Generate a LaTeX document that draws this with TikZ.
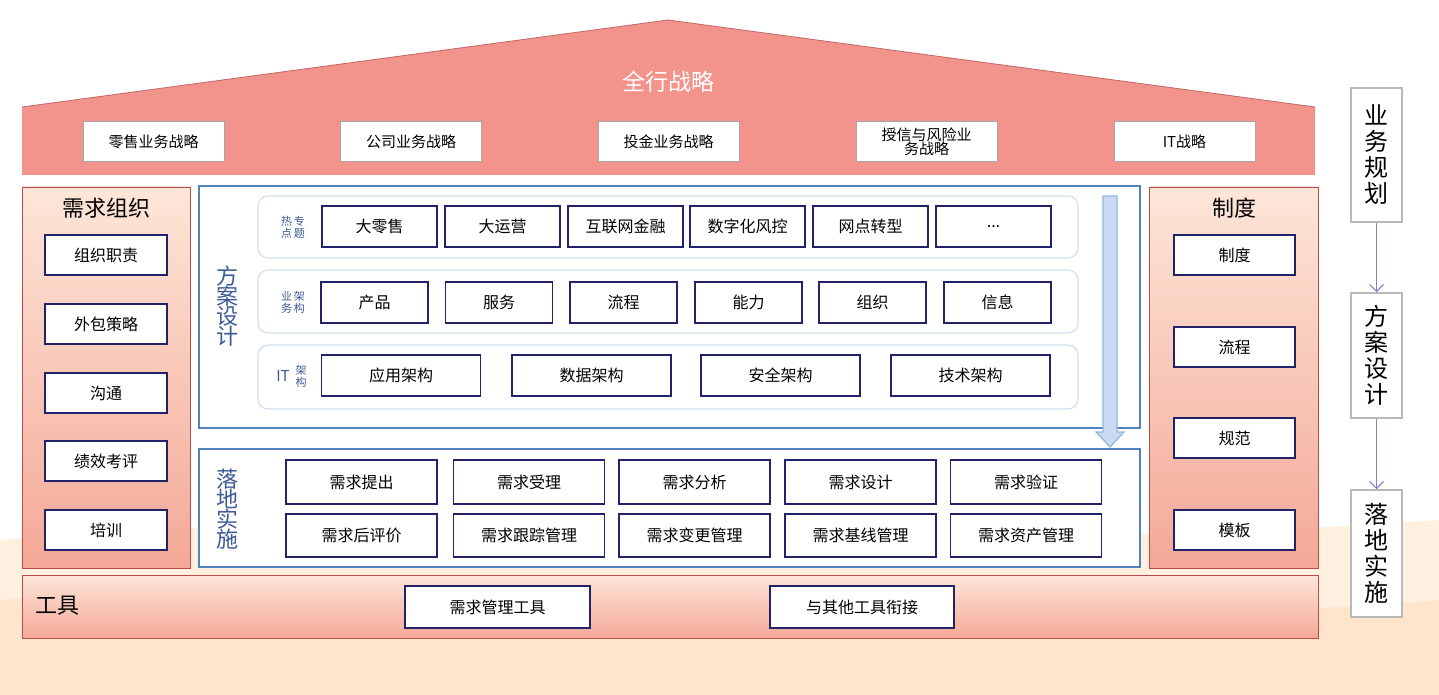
\documentclass[tikz,border=0pt]{standalone}
\usepackage{fontspec}
\setmainfont{Noto Sans CJK SC}
\usetikzlibrary{shapes.arrows,arrows.meta}
\definecolor{roof}{HTML}{F2948C}
\definecolor{peachtop}{HTML}{FDE6D8}
\definecolor{peachbot}{HTML}{F4A897}
\definecolor{navy}{HTML}{22226A}
\definecolor{frameblue}{HTML}{5383BE}
\definecolor{rowblue}{HTML}{D3DFF1}
\definecolor{labelblue}{HTML}{3B5A96}
\definecolor{arrowfill}{HTML}{C9DAF2}
\definecolor{arrowline}{HTML}{93B5E3}
\definecolor{flowline}{HTML}{8585C2}
\tikzset{
  sbox/.style={draw=gray!70, fill=white, line width=1pt, font=\fontsize{15}{17}\selectfont, inner sep=1pt, align=center},
  nbox/.style={draw=navy, fill=white, line width=1.8pt, font=\fontsize{16}{18}\selectfont, inner sep=1pt},
  column/.style={draw=red!60!black!70, line width=0.6pt, top color=peachtop, bottom color=peachbot},
  frame/.style={draw=frameblue, line width=2.2pt, fill=white},
  rowband/.style={draw=rowblue, line width=1.2pt, rounded corners=10pt, fill=white},
  coltitle/.style={font=\fontsize{22}{24}\selectfont},
  vtitle/.style={font=\fontsize{22}{24}\selectfont, text=labelblue, align=center},
  smalllbl/.style={font=\fontsize{11}{12}\selectfont, text=labelblue, align=center},
  flowbox/.style={draw=gray!55, line width=1.5pt, fill=white, font=\fontsize{24}{28}\selectfont, align=center, minimum width=51pt},
  flowarrow/.style={-{Straight Barb[length=7pt,width=14pt]}, draw=flowline, line width=1.2pt}
}
\begin{document}
\begin{tikzpicture}[x=1pt,y=-1pt]
  \useasboundingbox (0,0) rectangle (1439,695);
  % background swoosh
  \fill[orange!12] (0,540) .. controls (400,500) and (900,560) .. (1439,520) -- (1439,695) -- (0,695) -- cycle;
  \fill[orange!20] (0,600) .. controls (500,560) and (1000,640) .. (1439,600) -- (1439,695) -- (0,695) -- cycle;
  % roof
  \fill[roof] (22,107) -- (668,20) -- (1315,107) -- (1315,175) -- (22,175) -- cycle;
  \draw[red!60!black!60, line width=0.8pt] (22,107) -- (668,20) -- (1315,107);
  \node[text=white, font=\fontsize{23}{25}\selectfont] (title) at (668,82) {全行战略};
  \node[sbox, minimum width=141pt, minimum height=40pt] (s1) at (153.5,142) {零售业务战略};
  \node[sbox, minimum width=141pt, minimum height=40pt] (s2) at (411,142) {公司业务战略};
  \node[sbox, minimum width=141pt, minimum height=40pt] (s3) at (668.5,142) {投金业务战略};
  \node[sbox, minimum width=141pt, minimum height=40pt] (s4) at (926.5,142) {授信与风险业\\[-3pt]务战略};
  \node[sbox, minimum width=141pt, minimum height=40pt] (s5) at (1184.5,142) {IT战略};

  % left column
  \draw[column] (22,187) rectangle (190,568);
  \node[coltitle] (orgtitle) at (106,208) {需求组织};
  \foreach \y/\t [count=\i] in {255/组织职责,324/外包策略,393/沟通,461/绩效考评,530/培训}
    \node[nbox, minimum width=122pt, minimum height=40pt] (org\i) at (106,\y) {\t};

  % right column
  \draw[column] (1149,187) rectangle (1318,568);
  \node[coltitle] (rultitle) at (1234,208) {制度};
  \foreach \y/\t [count=\i] in {255/制度,347/流程,438/规范,530/模板}
    \node[nbox, minimum width=121pt, minimum height=40pt] (rul\i) at (1234.5,\y) {\t};

  % design frame
  \draw[frame] (199,186) rectangle (1140,428);
  \node[vtitle] (designtitle) at (227,306) {方\\[-4pt]案\\[-4pt]设\\[-4pt]计};
  \draw[rowband] (258,196) rectangle (1078,258);
  \draw[rowband] (258,270) rectangle (1078,333);
  \draw[rowband] (258,345) rectangle (1078,409);
  \node[smalllbl] (lbl1) at (293,227) {热\,专\\点\,题};
  \node[smalllbl] (lbl2) at (293,302) {业\,架\\务\,构};
  \node[text=labelblue, font=\fontsize{15}{16}\selectfont] (lbl3a) at (283,376) {IT};
  \node[smalllbl] (lbl3b) at (301,376) {架\\构};
  \foreach \x/\t [count=\i] in {379.5/大零售,502.5/大运营,625.5/互联网金融,747.5/数字化风控,870.5/网点转型,993.5/{...}}
    \node[nbox, minimum width=115pt, minimum height=41pt] (hot\i) at (\x,226.5) {\t};
  \foreach \x/\t [count=\i] in {374.5/产品,499/服务,623.5/流程,748.5/能力,872.5/组织,997.5/信息}
    \node[nbox, minimum width=107pt, minimum height=41pt] (biz\i) at (\x,302.5) {\t};
  \foreach \x/\t [count=\i] in {401/应用架构,591.5/数据架构,780.5/安全架构,970.5/技术架构}
    \node[nbox, minimum width=159pt, minimum height=41pt] (it\i) at (\x,375.5) {\t};

  % implementation frame
  \draw[frame] (199,449) rectangle (1140,567);
  \node[vtitle] (impltitle) at (227,509) {落\\[-4pt]地\\[-4pt]实\\[-4pt]施};
  \foreach \x/\t [count=\i] in {361.5/需求提出,529/需求受理,694.5/需求分析,860.5/需求设计,1026/需求验证}
    \node[nbox, minimum width=151pt, minimum height=44pt] (imp\i) at (\x,482) {\t};
  \foreach \x/\t [count=\i] in {361.5/需求后评价,529/需求跟踪管理,694.5/需求变更管理,860.5/需求基线管理,1026/需求资产管理}
    \node[nbox, minimum width=151pt, minimum height=43pt] (mgt\i) at (\x,535.5) {\t};

  % down arrow
  \filldraw[fill=arrowfill, draw=arrowline, line width=1.2pt] (1103,196) -- (1117,196) -- (1117,432) -- (1124,432) -- (1110,447) -- (1096,432) -- (1103,432) -- cycle;

  % tools bar
  \draw[column] (22,575) rectangle (1318,638);
  \node[coltitle, anchor=west] (tooltitle) at (32,606) {工具};
  \node[nbox, minimum width=185pt, minimum height=42pt] (tool1) at (497.5,607) {需求管理工具};
  \node[nbox, minimum width=184pt, minimum height=42pt] (tool2) at (862,607) {与其他工具衔接};

  % right flow
  \node[flowbox, minimum height=134pt] (plan) at (1376.5,155) {业\\[-2pt]务\\[-2pt]规\\[-2pt]划};
  \node[flowbox, minimum height=125pt] (design) at (1376.5,355.5) {方\\[-2pt]案\\[-2pt]设\\[-2pt]计};
  \node[flowbox, minimum height=127pt] (impl) at (1376.5,553.5) {落\\[-2pt]地\\[-2pt]实\\[-2pt]施};
  \draw[flowarrow] (plan) -- (design);
  \draw[flowarrow] (design) -- (impl);
\end{tikzpicture}
\end{document}
